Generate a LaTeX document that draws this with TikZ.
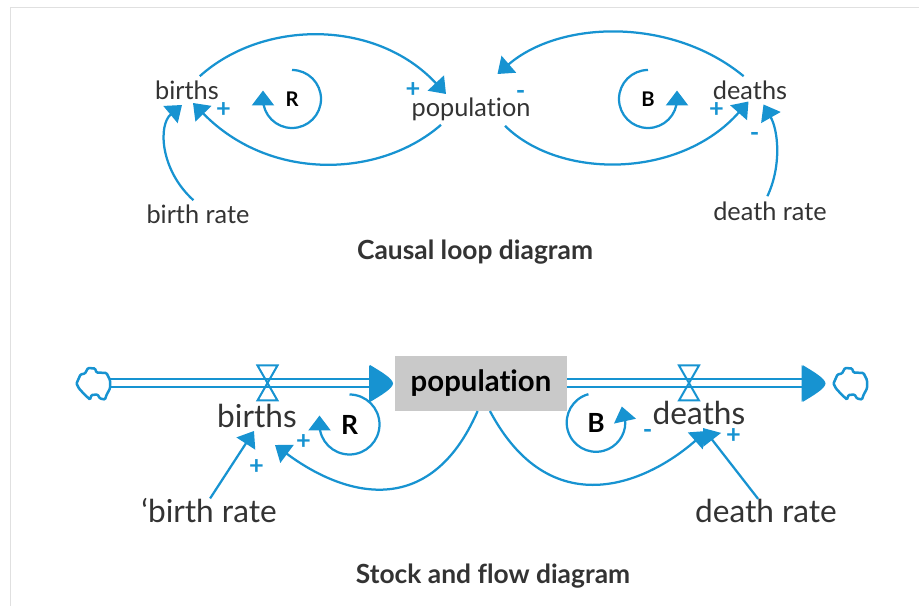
\documentclass[tikz,border=0pt]{standalone}
\usepackage{fontspec}
\setmainfont{Lato}[Ligatures=NoCommon]
\usetikzlibrary{arrows.meta}
\definecolor{loopblue}{HTML}{1793D1}
\definecolor{stockgrey}{HTML}{C9C9C9}
\definecolor{inkgrey}{HTML}{333333}
\tikzset{
	word/.style={text=inkgrey,inner sep=0pt,font=\fontsize{14.4}{16}\selectfont},
	bigword/.style={text=inkgrey,inner sep=0pt,font=\fontsize{18}{20}\selectfont},
	title/.style={text=inkgrey,inner sep=0pt,font=\fontsize{15}{17}\selectfont\bfseries},
	polarity/.style={text=loopblue,inner sep=0pt,yshift=-.05cm,font=\fontsize{14.5}{16}\selectfont\bfseries},
	link/.style={draw=loopblue,line width=.045cm,-{Triangle[length=.3cm,width=.44cm]}},
	flow/.style={draw=loopblue,line width=.04cm,double=white,double distance=.12cm,-{Latex[length=.46cm,width=.74cm]}},
	stockcloud/.pic={
		\draw [draw=loopblue,line width=.05cm,fill=white,rounded corners=.02cm]
		(-.32,0)--(-.24,.18)--(-.15,.20)--(-.09,.31)--(.05,.30)--(.08,.22)--(.28,.21)--(.35,.07)--(.35,-.10)
		--(.28,-.23)--(.25,-.32)--(.15,-.30)--(.10,-.22)--(-.02,-.23)--(-.05,-.32)--(-.15,-.23)--(-.27,-.10)--cycle;
	},
	valve/.pic={
		\draw [draw=loopblue,line width=.04cm] (-.2,.35)--(.2,.35)--(-.2,-.35)--(.2,-.35)--cycle;
	},
	flowhead/.pic={
		\fill [loopblue] (0,.37) .. controls (.2,.25) and (.46,.1) .. (.46,0) .. controls (.46,-.1) and (.2,-.25) .. (0,-.37) -- cycle;
	}
}

\begin{document}
\begin{tikzpicture}
	\useasboundingbox (0,0) rectangle (18.38,12.12);
	\draw [draw=black!12,line width=.035cm] (.21,0)--(.21,11.97)--(18.38,11.97);

	% causal loop diagram
	\node [word] (births) at (3.74,10.32) {births};
	\node [word] (population) at (9.42,9.94) {population};
	\node [word] (deaths) at (15.0,10.32) {deaths};
	\node [word] (birthrate) at (3.96,7.84) {birth rate};
	\node [word] (deathrate) at (15.4,7.90) {death rate};
	\node [title] (causal) at (9.5,7.08) {Causal loop diagram};
	\node [inner sep=0pt,font=\fontsize{11.5}{13}\selectfont\bfseries] (R) at (5.84,10.14) {R};
	\node [inner sep=0pt,font=\fontsize{11.5}{13}\selectfont\bfseries] (B) at (12.96,10.14) {B};

	\coordinate (popin) at (8.92,10.24);
	\coordinate (popout) at (9.95,10.64);
	\coordinate (birthin) at (3.86,10.06);
	\coordinate (birthrin) at (3.64,10.02);
	\coordinate (deathin) at (14.97,10.09);
	\coordinate (deathrin) at (15.27,10.03);

	\draw [link] ([xshift=.06cm,yshift=.08cm]births.45) .. controls (5.24,11.72) and (7.5,11.76) .. (popin);
	\draw [link] ([xshift=-.6cm,yshift=-.08cm]population.south) .. controls (7.6,8.56) and (5.4,8.48) .. (birthin);
	\draw [link] ([yshift=.08cm]birthrate.115) .. controls (3.2,8.72) and (3.16,9.62) .. (birthrin);
	\draw [link] ([yshift=.08cm]deaths.123) .. controls (13.44,11.78) and (11.2,11.72) .. (popout);
	\draw [link] ([xshift=.68cm,yshift=-.1cm]population.south) .. controls (11.2,8.52) and (13.6,8.54) .. (deathin);
	\draw [link] ([yshift=.1cm]deathrate.105) .. controls (15.64,8.82) and (15.56,9.52) .. (deathrin);

	\draw [link] ([shift={(90:.58)}]R.center) arc [start angle=90,end angle=-180,radius=.58] -- ++(0,.17);
	\draw [link] ([shift={(90:.58)}]B.center) arc [start angle=90,end angle=360,radius=.58] -- ++(0,.17);

	\node [polarity] (s1) at (8.26,10.36) {+};
	\node [polarity] (s2) at (10.41,10.27) {-};
	\node [polarity] (s3) at (4.47,9.97) {+};
	\node [polarity] (s4) at (14.33,9.97) {+};
	\node [polarity] (s5) at (15.09,9.42) {-};

	% stock and flow diagram
	\node [fill=stockgrey,minimum width=3.44cm,minimum height=1.09cm,inner sep=0pt,text=black,font=\fontsize{16.7}{19}\selectfont\bfseries] (stock) at (9.62,4.45) {population};
	\node [bigword] (births2) at (5.14,3.80) {births};
	\node [bigword] (deaths2) at (13.98,3.86) {deaths};
	\node [bigword] (birthrate2) at (4.18,1.90) {‘birth rate};
	\node [bigword] (deathrate2) at (15.32,1.90) {death rate};
	\node [title] (stockflow) at (9.86,.59) {Stock and flow diagram};
	\node [inner sep=0pt,font=\fontsize{15}{17}\selectfont\bfseries] (R2) at (6.99,3.63) {R};
	\node [inner sep=0pt,font=\fontsize{15}{17}\selectfont\bfseries] (B2) at (11.92,3.67) {B};

	\node [minimum width=.66cm,minimum height=.64cm,inner sep=0pt] (cloudin) at (1.85,4.45) {};
	\node [minimum width=.70cm,minimum height=.64cm,inner sep=0pt] (cloudout) at (16.99,4.45) {};

	\draw [flow,shorten >=.05cm] (cloudin.east) -- (stock.west);
	\draw [flow,shorten >=.14cm] (stock.east) -- (cloudout.west);
	\pic at (7.40,4.45) {flowhead};
	\pic at (16.05,4.45) {flowhead};
	\pic at (cloudin) {stockcloud};
	\pic at (cloudout) {stockcloud};
	\pic at (5.35,4.46) {valve};
	\pic at (13.78,4.46) {valve};

	\coordinate (birth2in) at (5.5,3.22);
	\coordinate (birth2rin) at (5.08,3.50);
	\coordinate (death2in) at (14.13,3.50);
	\coordinate (death2rin) at (14.06,3.56);

	\draw [link] (stock.263) .. controls (8.6,1.72) and (6.9,2.18) .. (birth2in);
	\draw [link] (stock.-72) .. controls (11.0,1.64) and (12.9,2.42) .. (death2in);
	\draw [link] (birthrate2.85) -- (birth2rin);
	\draw [link] (deathrate2.123) -- (death2rin);

	\draw [link] ([shift={(90:.60)}]R2.center) arc [start angle=90,end angle=-180,radius=.60] -- ++(0,.18);
	\draw [link] ([shift={(105:.586)}]B2.center) arc [start angle=105,end angle=360,radius=.586] -- ++(-.07,.32);

	\node [polarity] (s6) at (6.07,3.32) {+};
	\node [polarity] (s7) at (5.13,2.82) {+};
	\node [polarity] (s8) at (12.95,3.50) {-};
	\node [polarity] (s9) at (14.67,3.45) {+};
\end{tikzpicture}
\end{document}
